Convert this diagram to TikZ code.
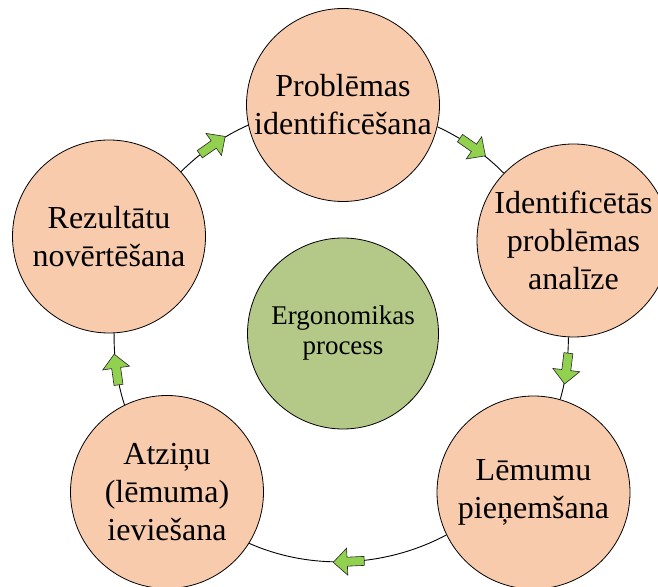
\documentclass[tikz,border=0pt]{standalone}
\usepackage{fontspec}
\setmainfont{Liberation Serif}
\usetikzlibrary{decorations.markings}

\definecolor{peach}{HTML}{F8CBAD}
\definecolor{sage}{RGB}{180,200,135}
\definecolor{arrowgreen}{HTML}{92D050}

\tikzset{
  stage/.style={circle, draw=black, line width=0.8pt, fill=peach,
    minimum size=193pt, inner sep=0pt, align=center,
    font=\fontsize{32}{38}\selectfont},
  hub/.style={circle, draw=black, line width=0.8pt, fill=sage,
    minimum size=191pt, inner sep=0pt, align=center,
    font=\fontsize{27}{30}\selectfont},
  blockarrow/.style={fill=arrowgreen, draw=black!85, line width=0.6pt, line join=miter},
  link/.style={draw=black, line width=0.9pt, looseness=0.87,
    postaction={decorate},
    decoration={markings, mark=at position 0.5 with {
      \path[blockarrow] (-15.5pt,-4.5pt) -- (1.5pt,-4.5pt) -- (1.5pt,-13.5pt)
        -- (15.5pt,0pt) -- (1.5pt,13.5pt) -- (1.5pt,4.5pt) -- (-15.5pt,4.5pt) -- cycle;
    }}},
}

\begin{document}
\begin{tikzpicture}[x=1pt,y=1pt]
  \useasboundingbox (0,0) rectangle (658,586);

  % the five stages of the cycle and the hub
  \node[hub]   (hub)   at (343,252.5) {Ergonomikas\\process};
  \node[stage] (ident) at (343,481)   {Problēmas\\identificēšana};
  \node[stage] (anal)  at (573.5,345.5) {Identificētās\\problēmas\\analīze};
  \node[stage] (decide) at (533.5,93.5) {Lēmumu\\pieņemšana};
  \node[stage] (impl)  at (167,94)    {Atziņu\\(lēmuma)\\ieviešana};
  \node[stage] (eval)  at (109,349.5) {Rezultātu\\novērtēšana};

  % connectors: arcs of one circle around the hub, clockwise
  \draw[link] (ident.-13.7) to[out=-25,  in=134.6] (anal.136.9);
  \draw[link] (anal.-93)    to[out=-90.6, in=73.5, looseness=0.86] (decide.74.6);
  \draw[link, looseness=0.89] (decide.206.7) to[out=207.9, in=-23.8] (impl.-32.1);
  \draw[link] (impl.116.5)  to[out=108.1, in=-90.45] (eval.-87.9);
  \draw[link] (eval.42.1)   to[out=44.45, in=203.8] (ident.192.5);
\end{tikzpicture}
\end{document}
